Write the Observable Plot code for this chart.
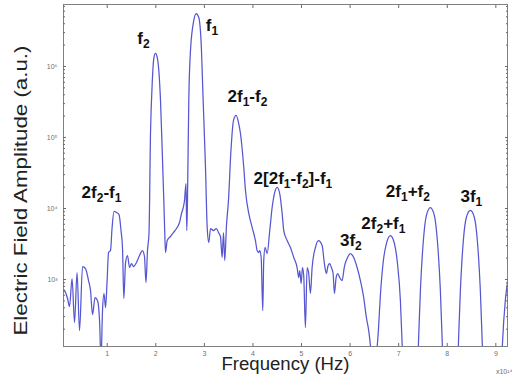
<!DOCTYPE html>
<html><head><meta charset="utf-8">
<script src="https://cdn.jsdelivr.net/npm/d3@7"></script>
<script src="https://cdn.jsdelivr.net/npm/@observablehq/plot@0.6"></script>
<style>
html,body{margin:0;padding:0;background:#fff;}
</style>
</head><body><div id="chart"></div>
<script>
// Frequency in units of 1e14 Hz
const freq = [
0.101,0.142,0.183,0.224,0.276,0.327,0.379,0.430,0.492,0.553,
0.615,0.656,0.698,0.749,0.800,0.842,0.872,0.903,0.934,0.965,
0.996,1.027,1.068,1.099,1.140,1.191,1.243,1.284,1.315,1.342,
1.377,1.418,1.459,1.500,1.541,1.603,1.665,1.726,1.767,1.798,
1.829,1.860,1.891,1.926,1.959,1.994,2.029,2.062,2.097,2.132,
2.165,2.185,2.200,2.235,2.302,2.364,2.426,2.488,2.529,2.560,
2.591,2.621,2.638,2.652,2.679,2.714,2.782,2.831,2.885,2.934,
2.975,3.023,3.058,3.091,3.126,3.187,3.249,3.290,3.331,3.366,
3.393,3.420,3.455,3.496,3.547,3.599,3.654,3.702,3.743,3.811,
3.846,3.914,3.984,4.051,4.086,4.119,4.140,4.169,4.202,4.222,
4.251,4.292,4.346,4.395,4.442,4.498,4.551,4.601,4.634,4.704,
4.772,4.840,4.909,4.942,4.963,4.992,5.019,5.045,5.080,5.115,
5.148,5.183,5.218,5.286,5.348,5.424,5.471,5.512,5.547,5.580,
5.615,5.650,5.677,5.712,5.745,5.786,5.835,5.883,5.938,6.006,
6.074,6.144,6.212,6.280,6.335,6.383,6.418,6.459,6.500,6.541,
6.582,6.623,6.685,6.747,6.829,6.912,6.973,7.035,7.076,7.117,
7.241,7.364,7.405,7.447,7.508,7.570,7.652,7.735,7.796,7.858,
7.899,7.940,8.064,8.187,8.228,8.270,8.331,8.393,8.475,8.558,
8.619,8.681,8.722,8.763,8.928,9.093,9.134,9.195,9.237,9.340
];
// Electric field amplitude (a.u.)
const amp = [
723,656,540,417,1033,248,1255,191,1524,1429,
968,700,321,557,506,265,72,366,635,403,
907,2399,2560,5224,9080,8790,8220,4898,2735,540,
1734,2178,1476,1679,1524,1734,2178,2560,2109,907,
2560,4446,113800,576800,1297000,1524000,1340000,879000,332000,65600,
12970,4446,2399,3540,4036,4592,5224,6353,8511,10000,
12970,22490,4898,12970,332000,1680000,4446000,5572000,4898000,2109000,
332000,37760,5397,3320,5224,4898,5224,4592,4036,2042,
4592,1854,5768,12970,65600,173300,204200,162500,113800,37760,
17950,8511,5397,3540,2560,2399,2560,2042,366,1854,
2825,2322,4898,10330,16260,19780,16260,8511,4898,3540,
2825,2042,1476,1067,1339,878,1476,1139,211,1476,
1215,635,1476,2825,3540,3013,1679,1215,1574,1679,
1476,1215,635,1067,1215,1067,968,1524,1977,2322,
2042,1476,968,557,292,191,117,52,10,72,
191,596,1854,3213,4168,3213,1734,506,100,20,
5,20,117,700,3540,7960,10330,7960,3540,700,
117,20,5,20,117,700,3540,7464,9376,7464,
3540,700,117,20,5,20,117,506,878,2178
];

// Peak annotations
const labelText = ["2f₂-f₁","f₂","f₁","2f₁-f₂","2[2f₁-f₂]-f₁","3f₂","2f₂+f₁","2f₁+f₂","3f₁"];
const labelFreq = [0.883,1.747,3.156,3.887,4.823,6.016,6.685,7.189,8.496];
const labelAmp  = [16800,2.48e6,3.78e6,377000,26500,3540,6150,17300,14750];

// Axis ticks
const xTicks = [1,2,3,4,5,6,7,8,9];
const xTickLabels = ["1","2","3","4","5","6","7","8","9"];
const yTicks = [1e3,1e4,1e5,1e6];
const yTickLabels = ["10³","10⁴","10⁵","10⁶"];
const xDomain = [0.1, 9.24];
const yDomain = [114, 7.46e6];

const data = freq.map((f, i) => ({f, a: amp[i]}));
const labels = labelText.map((t, i) => ({t, f: labelFreq[i], a: labelAmp[i]}));
const yMinor = [];
for (let k = 2; k <= 6; k++) for (let m = 2; m <= 9; m++) {
  const v = m * 10 ** k;
  if (v >= yDomain[0] && v <= yDomain[1]) yMinor.push(v);
}

const tickColor = "#6a6a6a";
const chart = Plot.plot({
  width: 512, height: 382,
  marginTop: 4, marginRight: 5, marginBottom: 36, marginLeft: 63,
  style: {fontFamily: "'Liberation Sans', Arial, sans-serif", background: "#fff", overflow: "visible"},
  x: {domain: xDomain},
  y: {type: "log", domain: yDomain},
  marks: [
    Plot.line(data, {x: "f", y: "a", stroke: "#5656d2", strokeWidth: 1.25, curve: "monotone-x", clip: true}),
    Plot.frame({stroke: "#808080"}),
    Plot.axisX(xTicks, {anchor: "bottom", tickSize: -3, tickPadding: 8, stroke: tickColor, fill: "#707070", fontSize: 7,
      tickFormat: d => xTickLabels[xTicks.indexOf(d)], label: null}),
    Plot.axisX(xTicks, {anchor: "top", tickSize: -3, stroke: tickColor, fill: "none", label: null}),
    Plot.axisY(yTicks, {anchor: "left", tickSize: -3, tickPadding: 9, stroke: tickColor, fill: "#707070", fontSize: 7,
      tickFormat: d => yTickLabels[yTicks.indexOf(d)], label: null}),
    Plot.axisY(yTicks, {anchor: "right", tickSize: -3, stroke: tickColor, fill: "none", label: null}),
    Plot.axisY(yMinor, {anchor: "left", tickSize: -2, stroke: tickColor, fill: "none", label: null}),
    Plot.axisY(yMinor, {anchor: "right", tickSize: -2, stroke: tickColor, fill: "none", label: null}),
    Plot.text(labels, {x: "f", y: "a", text: "t", fontSize: 17, fontWeight: "bold", fill: "#111", className: "peaklabel"}),
    Plot.text(["Electric Field Amplitude (a.u.)"], {frameAnchor: "left", textAnchor: "middle", lineAnchor: "middle", rotate: -90, dx: -42, dy: 15, fontSize: 18, fill: "#222", className: "ytitle"}),
    Plot.text(["Frequency (Hz)"], {frameAnchor: "bottom", textAnchor: "middle", lineAnchor: "middle", dy: 18, fontSize: 18, fill: "#222", className: "xtitle"}),
    Plot.text(["x10¹⁴"], {frameAnchor: "bottom-right", textAnchor: "end", lineAnchor: "middle", dx: 5, dy: 25, fontSize: 7, fill: "#707070"})
  ]
});
document.getElementById("chart").appendChild(chart);

// Stretch the axis titles to the reference's text widths
chart.querySelectorAll(".ytitle text").forEach(t => { t.setAttribute("textLength", "290"); t.setAttribute("lengthAdjust", "spacingAndGlyphs"); });
chart.querySelectorAll(".xtitle text").forEach(t => { t.setAttribute("textLength", "128"); t.setAttribute("lengthAdjust", "spacingAndGlyphs"); });

// Render subscript digits of the peak labels as lowered, smaller tspans
const SUBS = "₀₁₂₃₄₅₆₇₈₉";
chart.querySelectorAll(".peaklabel text").forEach(t => {
  const s = t.textContent;
  t.textContent = "";
  let inSub = false;
  for (const ch of s) {
    const k = SUBS.indexOf(ch);
    const isSub = k >= 0;
    const ts = document.createElementNS("http://www.w3.org/2000/svg", "tspan");
    if (isSub !== inSub) ts.setAttribute("dy", isSub ? "4" : "-4");
    if (isSub) ts.setAttribute("font-size", "12");
    ts.textContent = isSub ? String(k) : ch;
    t.appendChild(ts);
    inSub = isSub;
  }
});
</script>
</body></html>
